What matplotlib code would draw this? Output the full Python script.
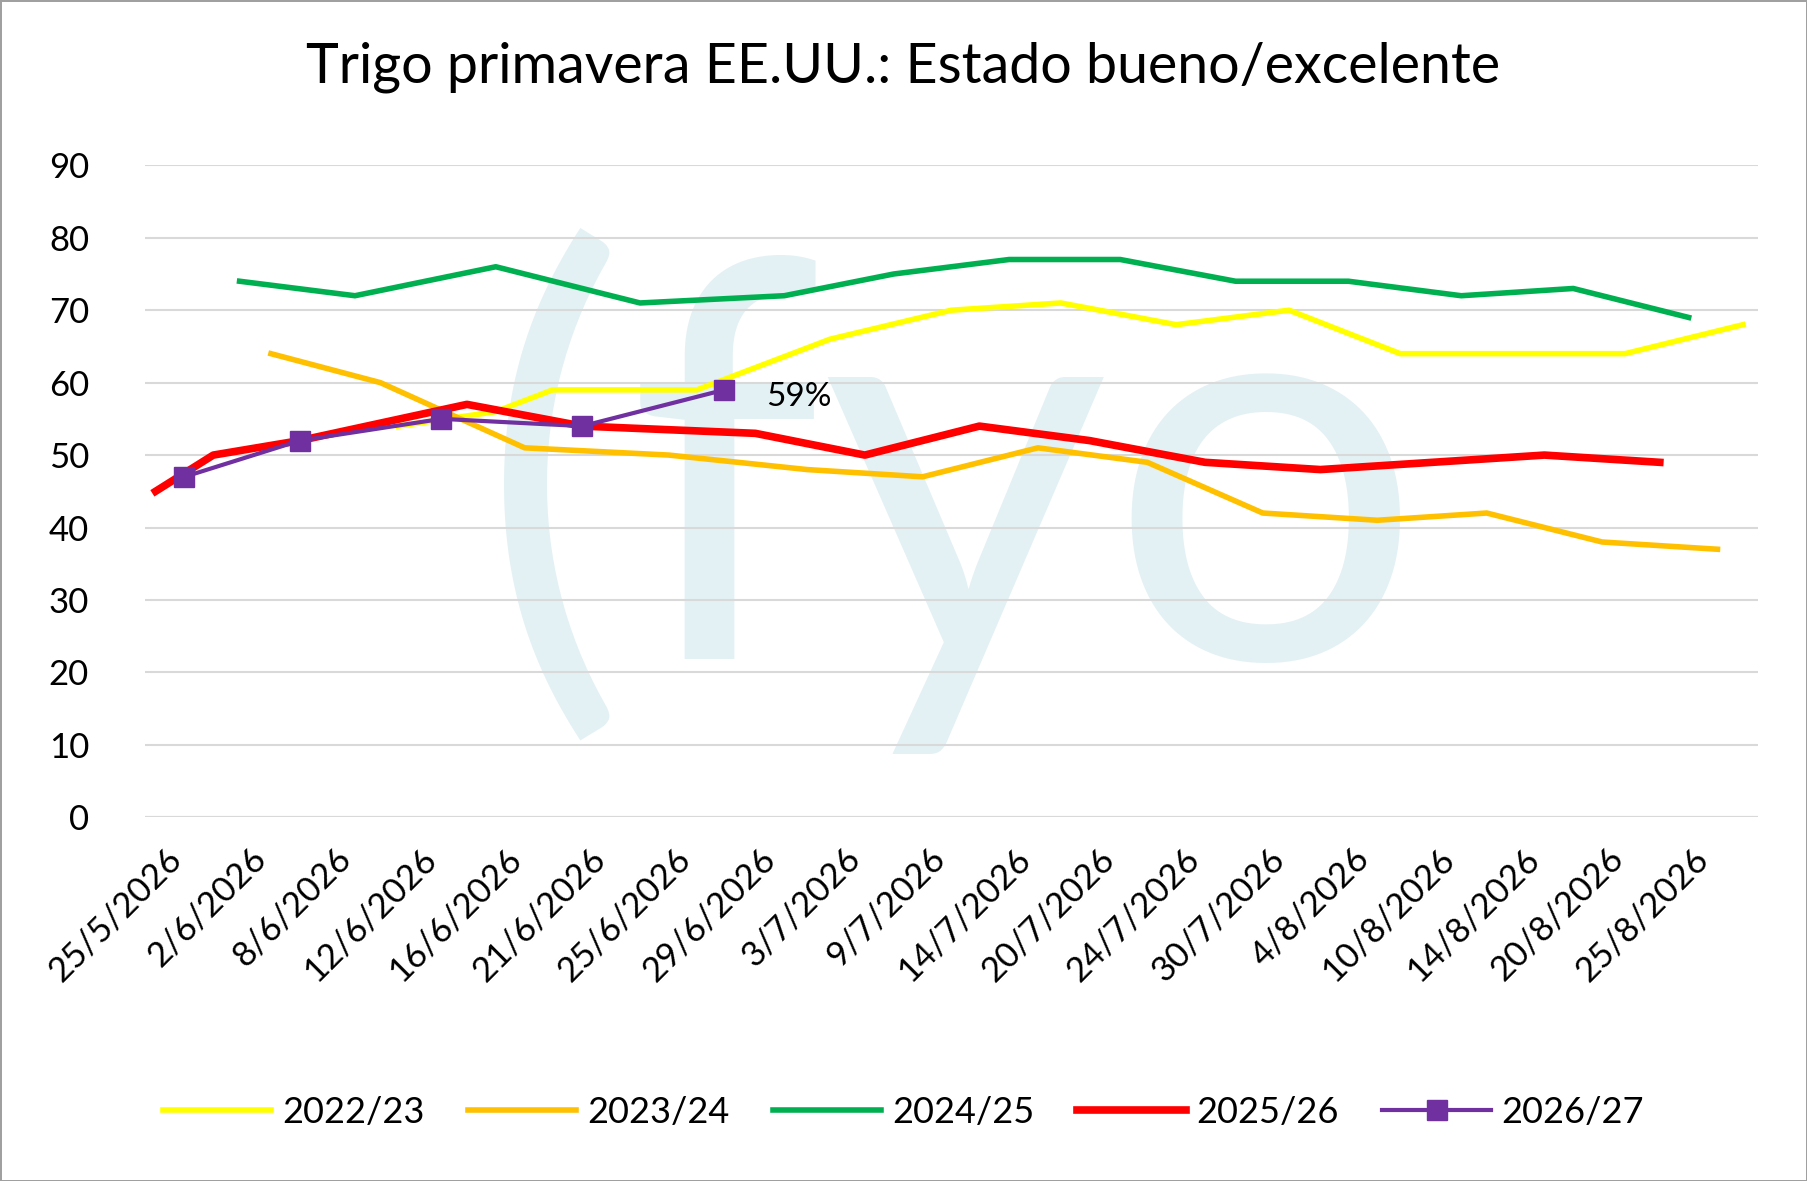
import matplotlib
matplotlib.use('Agg')
import matplotlib.pyplot as plt

plt.rcParams['font.family'] = 'Lato'

LABELS = ['25/5/2026', '2/6/2026', '8/6/2026', '12/6/2026', '16/6/2026', '21/6/2026',
          '25/6/2026', '29/6/2026', '3/7/2026', '9/7/2026', '14/7/2026', '20/7/2026',
          '24/7/2026', '30/7/2026', '4/8/2026', '10/8/2026', '14/8/2026', '20/8/2026',
          '25/8/2026']

# positions in label units (label i sits at i)
X_2223 = [2.75, 3.9, 4.57, 6.27, 7.84, 9.27, 10.56, 11.92, 13.25, 14.56, 17.21, 18.6]
Y_2223 = [54, 56, 59, 59, 66, 70, 71, 68, 70, 64, 64, 68]
X_2324 = [1.25, 2.54, 4.24, 5.94, 7.57, 8.93, 10.29, 11.58, 12.94, 14.29, 15.58, 16.94, 18.3]
Y_2324 = [64, 60, 51, 50, 48, 47, 51, 49, 42, 41, 42, 38, 37]
X_2425 = [0.88, 2.24, 3.9, 5.6, 7.3, 8.59, 9.95, 11.26, 12.62, 13.95, 15.28, 16.6, 17.96]
Y_2425 = [74, 72, 76, 71, 72, 75, 77, 77, 74, 74, 72, 73, 69]
X_2526 = [-0.11, 0.57, 1.59, 3.56, 4.92, 6.96, 8.25, 9.6, 10.9, 12.26, 13.62, 16.26, 17.62]
Y_2526 = [45, 50, 52, 57, 54, 53, 50, 54, 52, 49, 48, 50, 49]
X_2627 = [0.23, 1.59, 3.26, 4.92, 6.59]
Y_2627 = [47, 52, 55, 54, 59]


def make_plot():
    fig = plt.figure(figsize=(18.07, 11.81), dpi=100)
    fig.patch.set_edgecolor('#a0a0a0')
    fig.patch.set_linewidth(2)
    ax = fig.add_axes([0.080, 0.308, 0.893, 0.552])

    # watermark, kept inside the plot area
    wm = ax.text(0.5, 0.5, '(fyo', transform=ax.transAxes, fontsize=400, color='#e3f1f5',
                 ha='center', va='center', zorder=0)
    wm.set_clip_on(True)

    ax.plot(X_2223, Y_2223, color='#ffff00', lw=4, label='2022/23', zorder=2)
    ax.plot(X_2324, Y_2324, color='#ffc000', lw=4, label='2023/24', zorder=3)
    ax.plot(X_2425, Y_2425, color='#00b050', lw=4, label='2024/25', zorder=3)
    ax.plot(X_2526, Y_2526, color='#ff0000', lw=5.5, label='2025/26', zorder=4)
    ax.plot(X_2627, Y_2627, color='#7030a0', lw=3, marker='s', ms=15, label='2026/27', zorder=5)
    ax.annotate('59%', (X_2627[-1], Y_2627[-1]), xytext=(30, -5), textcoords='offset points',
                fontsize=24, va='center', zorder=6)

    ax.set_xlim(-0.24, 18.78)
    ax.set_ylim(0, 90)
    ax.set_yticks(range(0, 91, 10))
    ax.set_xticks(range(len(LABELS)))
    ax.set_xticklabels(LABELS, rotation=45, ha='right', rotation_mode='anchor', fontsize=25)
    ax.tick_params(axis='y', labelsize=25, length=0, pad=40)
    ax.tick_params(axis='x', length=0, pad=18)
    ax.grid(axis='y', color='#d9d9d9', lw=1.5)
    ax.set_axisbelow(True)
    for s in ax.spines.values():
        s.set_visible(False)
    ax.axhline(0, color='#d9d9d9', lw=1.5, zorder=1)

    fig.suptitle('Trigo primavera EE.UU.: Estado bueno/excelente', fontsize=40, y=0.965)
    fig.legend(loc='center', bbox_to_anchor=(0.5, 0.058), ncol=5, fontsize=26, frameon=False,
               handlelength=3, columnspacing=1.2, handletextpad=0.3)
    fig.savefig('out.png', dpi=100)
    plt.close(fig)


if __name__ == '__main__':
    make_plot()
